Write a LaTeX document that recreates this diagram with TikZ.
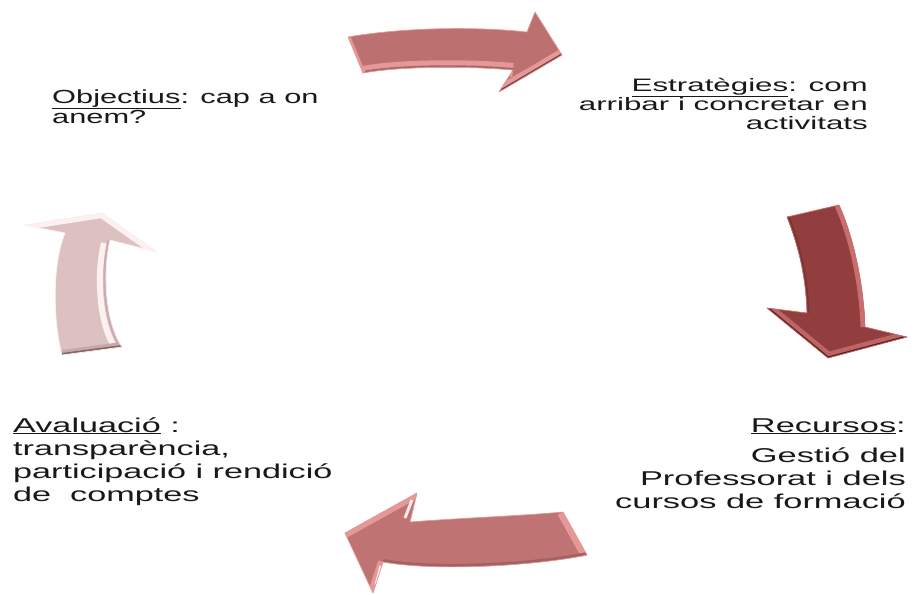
\documentclass[tikz,border=0pt]{standalone}
\usepackage{fontspec}
\setmainfont{Liberation Sans}
\definecolor{topred}{RGB}{189,112,112}
\definecolor{topredlight}{RGB}{228,152,152}
\definecolor{topreddark}{RGB}{115,55,55}
\definecolor{darkred}{RGB}{146,62,62}
\definecolor{darkredlight}{RGB}{200,110,110}
\definecolor{darkreddark}{RGB}{85,28,28}
\definecolor{pinkarrow}{RGB}{221,192,192}
\definecolor{pinklight}{RGB}{252,240,240}
\definecolor{pinkdark}{RGB}{135,100,100}
\definecolor{botred}{RGB}{192,115,115}
\definecolor{txt}{RGB}{25,25,25}
\begin{document}
\begin{tikzpicture}[x=1pt,y=-1pt,
  lbl/.style={inner sep=0pt, text=txt},
  rim/.style={line width=0.7pt, line join=round},
]
\useasboundingbox (0,0) rectangle (914,595);
\fill[white] (0,0) rectangle (914,595);

\def\arrowTop{(348,37) .. controls (400,28) and (470,26) .. (527,32) -- (535,12) -- (562,55) -- (499,92) -- (513,70) .. controls (470,66) and (400,66) .. (363,73) -- cycle}
\def\arrowRight{(787,217) -- (839,205) .. controls (855,240) and (864,290) .. (865,327) -- (907,337) -- (828,358) -- (767,308) -- (807,313) .. controls (806,280) and (800,250) .. (787,217) -- cycle}
\def\arrowBot{(345,533) -- (417,493) -- (410,522) .. controls (460,518) and (520,516) .. (563,512) -- (587,555) .. controls (540,565) and (440,572) .. (383,562) -- (373,593) -- cycle}
\def\arrowLeft{(102,213) -- (157,252) -- (110,240) .. controls (103,270) and (104,320) .. (122,347) -- (62,355) .. controls (53,320) and (52,265) .. (65,233) -- (25,225) -- cycle}

% top arrow (Objectius -> Estrategies)
\fill[topred] \arrowTop;
\begin{scope}
  \clip \arrowTop;
  \draw[topredlight, line width=14pt] (363,73) .. controls (400,66) and (470,66) .. (513,70);
  \draw[topred!90!black, line width=4pt] (363,73) .. controls (400,66) and (470,66) .. (513,70);
  \draw[topredlight, line width=12pt] (499,92) -- (562,55);
  \draw[topreddark, line width=3pt] (499,92) -- (562,55);
  \draw[topredlight, line width=5pt] (348,37) -- (363,73);
\end{scope}
\draw[topredlight, rim] \arrowTop;

% right arrow (Estrategies -> Recursos)
\fill[darkred] \arrowRight;
\begin{scope}
  \clip \arrowRight;
  \draw[darkredlight, line width=9pt] (839,205) .. controls (855,240) and (864,290) .. (865,327);
  \draw[darkred!85!black, line width=5pt] (807,313) .. controls (806,280) and (800,250) .. (787,217);
  \draw[darkredlight!80!darkred, line width=12pt] (767,308) -- (828,358) -- (907,337);
  \draw[darkreddark, line width=3pt] (767,308) -- (828,358) -- (907,337);
\end{scope}
\draw[darkredlight, rim] \arrowRight;

% bottom arrow (Recursos -> Avaluacio)
\fill[botred] \arrowBot;
\begin{scope}
  \clip \arrowBot;
  \draw[topredlight, line width=12pt] (563,512) -- (587,555);
  \draw[botred!85!black, line width=6pt] (587,555) .. controls (540,565) and (440,572) .. (383,562);
  \draw[topredlight, line width=10pt] (345,533) -- (417,493);
  \draw[topredlight, line width=10pt] (383,562) -- (373,593);
  \draw[white!80!topredlight, line width=3pt] (412,500) -- (405,518);
  \draw[white!80!topredlight, line width=3pt] (381,566) -- (376,585);
\end{scope}
\draw[topredlight, rim] \arrowBot;

% left arrow (Avaluacio -> Objectius)
\fill[pinkarrow] \arrowLeft;
\begin{scope}
  \clip \arrowLeft;
  \draw[pinklight, line width=6pt] (104,243) .. controls (97,270) and (98,320) .. (114,346);
  \draw[pinkarrow!90!black, line width=5pt] (110,240) .. controls (103,270) and (104,320) .. (122,347);
  \draw[pinklight, line width=10pt] (25,225) -- (102,213) -- (157,252);
  \draw[pinkarrow!75!pinkdark, line width=10pt] (122,347) -- (62,355);
  \draw[pinkdark, line width=4pt] (122,347) -- (62,355);
\end{scope}
\draw[pinklight, rim] \arrowLeft;

% labels
\node[lbl, anchor=base west] (obj) at (52,103) {\fontsize{19}{20}\selectfont\scalebox{1.62}[1]{\begin{tabular}[t]{@{}l@{}}\underline{Objectius}: cap a on\\anem?\end{tabular}}};

\node[lbl, anchor=base east] (est) at (868,91) {\fontsize{18}{19}\selectfont\scalebox{1.74}[1]{\begin{tabular}[t]{@{}r@{}}\underline{Estratègies}: com\\arribar i concretar en\\activitats\end{tabular}}};

\node[lbl, anchor=base east] (rec) at (906,432) {\fontsize{20}{23}\selectfont\scalebox{1.72}[1]{\begin{tabular}[t]{@{}r@{}}\underline{Recursos}:\\[7pt]Gestió del\\Professorat i dels\\cursos de formació\end{tabular}}};

\node[lbl, anchor=base west] (ava) at (13,432) {\fontsize{20}{23}\selectfont\scalebox{1.71}[1]{\begin{tabular}[t]{@{}l@{}}\underline{Avaluació} :\\transparència,\\participació i rendició\\de\ \ comptes\end{tabular}}};
\end{tikzpicture}
\end{document}
